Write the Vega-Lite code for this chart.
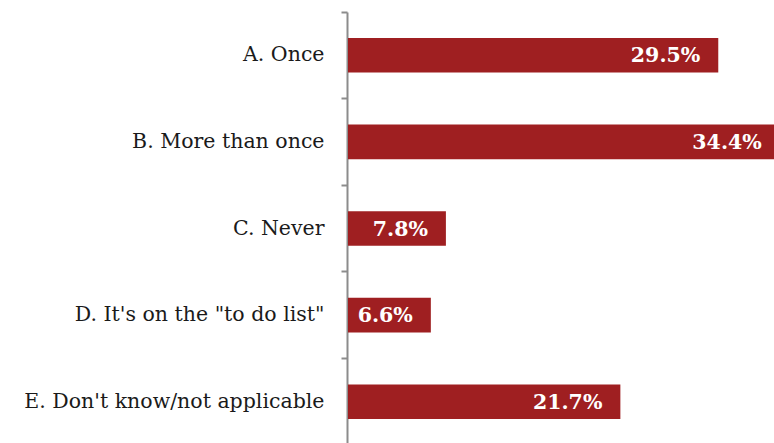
{
  "$schema": "https://vega.github.io/schema/vega-lite/v6.json",
  "width": 426,
  "height": 433,
  "autosize": {"type": "none"},
  "padding": {"left": 348, "top": 12, "right": 0, "bottom": 0},
  "background": "white",
  "config": {"view": {"stroke": null}},
  "data": {
    "values": [
      {"category": "A. Once", "share": 0.295},
      {"category": "B. More than once", "share": 0.344},
      {"category": "C. Never", "share": 0.078},
      {"category": "D. It's on the \"to do list\"", "share": 0.066},
      {"category": "E. Don't know/not applicable", "share": 0.217}
    ]
  },
  "encoding": {
    "y": {
      "field": "category",
      "type": "nominal",
      "sort": null,
      "scale": {"paddingInner": 0, "paddingOuter": 0},
      "axis": {
        "title": null,
        "bandPosition": 0,
        "offset": 1,
        "domainColor": "#8c8c8c",
        "domainWidth": 2,
        "tickColor": "#8c8c8c",
        "tickWidth": 2,
        "tickSize": 6,
        "labelPadding": 17,
        "labelFont": "DejaVu Serif",
        "labelFontSize": 20.5,
        "labelColor": "#1a1a1a",
        "labelAlign": "right",
        "labelBaseline": "middle",
        "labelLimit": 400
      }
    },
    "x": {
      "field": "share",
      "type": "quantitative",
      "scale": {"domain": [0, 0.3394], "nice": false, "zero": true},
      "axis": null
    }
  },
  "layer": [
    {
      "mark": {"type": "bar", "color": "#9f1f21", "clip": true, "height": {"band": 0.4}}
    },
    {
      "mark": {
        "type": "text",
        "align": "right",
        "baseline": "middle",
        "dx": -18,
        "dy": 1,
        "font": "DejaVu Serif",
        "fontSize": 20.5,
        "fontWeight": "bold",
        "color": "white"
      },
      "encoding": {
        "text": {"field": "share", "type": "quantitative", "format": ".1%"}
      }
    }
  ]
}
